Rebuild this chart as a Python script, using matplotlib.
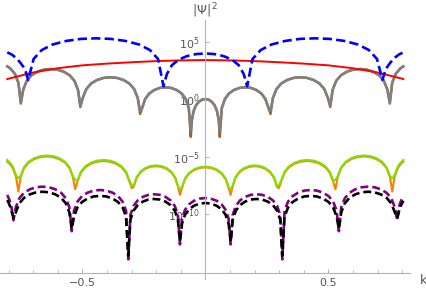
import numpy as np
import matplotlib
matplotlib.use("Agg")
import matplotlib.pyplot as plt
from matplotlib.ticker import FixedLocator, NullLocator

# values: k positions and log10(|Psi|^2), one list per arch

# red
red_k = [-0.805, -0.7, -0.6, -0.5, -0.4, -0.3, -0.2, -0.1, 0.0,
         0.1, 0.2, 0.3, 0.4, 0.5, 0.6, 0.7, 0.805]
red_L = [1.78, 2.35, 2.72, 2.97, 3.12, 3.24, 3.34, 3.4, 3.43,
         3.4, 3.34, 3.24, 3.12, 2.97, 2.72, 2.35, 1.78]

# blue dashed
blue_k = ([-0.805, -0.786, -0.767, -0.752, -0.740, -0.73, -0.72]
          + [-0.698, -0.665, -0.621, -0.566, -0.5055, -0.445, -0.3845, -0.324, -0.269, -0.225, -0.192, -0.17]
          + [-0.1564, -0.136, -0.1088, -0.0748, -0.0374, 0.0, 0.0374, 0.0748, 0.1088, 0.136, 0.1564, 0.17]
          + [0.192, 0.225, 0.269, 0.324, 0.3845, 0.445, 0.5055, 0.566, 0.621, 0.665, 0.698, 0.72]
          + [0.73, 0.740, 0.752, 0.767, 0.786, 0.805])
blue_L = ([4.1, 3.9, 3.58, 3.2, 2.85, 2.4, 1.7]
          + [3.52, 4.30, 4.78, 5.09, 5.27, 5.32, 5.27, 5.09, 4.78, 4.30, 3.52, 1.15]
          + [2.20, 2.98, 3.46, 3.77, 3.95, 4.0, 3.95, 3.77, 3.46, 2.98, 2.20, 1.15]
          + [3.52, 4.30, 4.78, 5.09, 5.27, 5.32, 5.27, 5.09, 4.78, 4.30, 3.52, 1.7]
          + [2.4, 2.85, 3.2, 3.58, 3.9, 4.1])

# gray (and brown underneath)
gray_k = ([-0.805, -0.7932, -0.774, -0.7597, -0.75]
          + [-0.7403, -0.7258, -0.7064, -0.6822, -0.6556, -0.629, -0.6024, -0.5758, -0.5516, -0.5322, -0.5177, -0.508]
          + [-0.4983, -0.4837, -0.4643, -0.44, -0.4132, -0.3865, -0.3598, -0.333, -0.3087, -0.2893, -0.2747, -0.265]
          + [-0.2568, -0.2444, -0.2279, -0.2073, -0.1847, -0.162, -0.1393, -0.1167, -0.0961, -0.0796, -0.0672, -0.059]
          + [-0.0543, -0.0472, -0.0378, -0.026, -0.013, 0.0, 0.013, 0.026, 0.0378, 0.0472, 0.0543, 0.059]
          + [0.0672, 0.0796, 0.0961, 0.1167, 0.1393, 0.162, 0.1847, 0.2073, 0.2279, 0.2444, 0.2568, 0.265]
          + [0.2747, 0.2893, 0.3087, 0.333, 0.3598, 0.3865, 0.4132, 0.44, 0.4643, 0.4837, 0.4983, 0.508]
          + [0.5177, 0.5322, 0.5516, 0.5758, 0.6024, 0.629, 0.6556, 0.6822, 0.7064, 0.7258, 0.7403, 0.75]
          + [0.7597, 0.774, 0.7932, 0.805])
g_edge = [2.88, 2.71, 2.23, 1.45]
g_a1 = [0.85, 1.63, 2.11, 2.42, 2.60, 2.65, 2.60, 2.42, 2.11, 1.63, 0.85]
g_a2 = [0.13, 0.91, 1.39, 1.70, 1.88, 1.93, 1.88, 1.70, 1.39, 0.91, 0.13]
g_a3 = [-0.74, 0.04, 0.52, 0.83, 1.01, 1.06, 1.01, 0.83, 0.52, 0.04, -0.74]
g_a4 = [-1.76, -0.98, -0.50, -0.19, -0.01, 0.04, -0.01, -0.19, -0.50, -0.98, -1.76]
gray_cusps = [-0.3, -0.5, -1.0, -2.65]
brown_cusps = [-0.35, -0.65, -1.25, -3.25]

# green (and orange underneath), same k positions
green_k = ([-0.805, -0.792, -0.783, -0.7692, -0.76]
           + [-0.7508, -0.7369, -0.7184, -0.6953, -0.6699, -0.6445, -0.6191, -0.5937, -0.5706, -0.5521, -0.5382, -0.529]
           + [-0.5198, -0.506, -0.4876, -0.4646, -0.4393, -0.414, -0.3887, -0.3634, -0.3404, -0.322, -0.3082, -0.299]
           + [-0.2912, -0.2794, -0.2637, -0.2441, -0.2226, -0.201, -0.1794, -0.1579, -0.1383, -0.1226, -0.1108, -0.103]
           + [-0.0948, -0.0824, -0.0659, -0.0453, -0.0227, 0.0, 0.0227, 0.0453, 0.0659, 0.0824, 0.0948, 0.103]
           + [0.1108, 0.1226, 0.1383, 0.1579, 0.1794, 0.201, 0.2226, 0.2441, 0.2637, 0.2794, 0.2912, 0.299]
           + [0.3082, 0.322, 0.3404, 0.3634, 0.3887, 0.414, 0.4393, 0.4646, 0.4876, 0.506, 0.5198, 0.529]
           + [0.5382, 0.5521, 0.5706, 0.5937, 0.6191, 0.6445, 0.6699, 0.6953, 0.7184, 0.7369, 0.7508, 0.76]
           + [0.7692, 0.783, 0.792, 0.805])
gr_edge = [-5.26, -5.55, -5.81, -6.59]
gr_a1 = [-6.67, -5.89, -5.41, -5.10, -4.92, -4.87, -4.92, -5.10, -5.41, -5.89, -6.67]
gr_a2 = [-7.06, -6.28, -5.80, -5.49, -5.31, -5.26, -5.31, -5.49, -5.80, -6.28, -7.06]
gr_a3 = [-7.53, -6.75, -6.27, -5.96, -5.78, -5.73, -5.78, -5.96, -6.27, -6.75, -7.53]
gr_a4 = [-7.64, -6.86, -6.38, -6.07, -5.89, -5.84, -5.89, -6.07, -6.38, -6.86, -7.64]
green_cusps = [-6.85, -7.0, -7.45, -7.8]
or_edge = [-5.4, -5.68, -5.95, -6.75]
or_a1 = [-6.75, -5.97, -5.49, -5.18, -5.00, -4.95, -5.00, -5.18, -5.49, -5.97, -6.75]
or_a2 = [-7.15, -6.37, -5.89, -5.58, -5.40, -5.35, -5.40, -5.58, -5.89, -6.37, -7.15]
or_a3 = [-7.6, -6.82, -6.34, -6.03, -5.85, -5.8, -5.85, -6.03, -6.34, -6.82, -7.6]
or_a4 = [-7.7, -6.92, -6.44, -6.13, -5.95, -5.9, -5.95, -6.13, -6.44, -6.92, -7.7]
orange_cusps_left = [-8.0, -7.8, -7.7, -8.3]
orange_cusps_right = [-8.3, -7.7, -7.8, -8.0]

# purple dashed and black dashed, same k positions
pb_k = ([-0.805, -0.797, -0.7896, -0.78]
        + [-0.7705, -0.7563, -0.7373, -0.7136, -0.6876, -0.6615, -0.6354, -0.6094, -0.5857, -0.5667, -0.5525, -0.543]
        + [-0.5338, -0.52, -0.5016, -0.4786, -0.4533, -0.428, -0.4027, -0.3774, -0.3544, -0.336, -0.3222, -0.313]
        + [-0.3046, -0.292, -0.2752, -0.2542, -0.2311, -0.208, -0.1849, -0.1618, -0.1408, -0.124, -0.1114, -0.103]
        + [-0.0948, -0.0824, -0.0659, -0.0453, -0.0227, 0.0, 0.0227, 0.0453, 0.0659, 0.0824, 0.0948, 0.103]
        + [0.1114, 0.124, 0.1408, 0.1618, 0.1849, 0.208, 0.2311, 0.2542, 0.2752, 0.292, 0.3046, 0.313]
        + [0.3222, 0.336, 0.3544, 0.3774, 0.4027, 0.428, 0.4533, 0.4786, 0.5016, 0.52, 0.5338, 0.543]
        + [0.5525, 0.5667, 0.5857, 0.6094, 0.6354, 0.6615, 0.6876, 0.7136, 0.7373, 0.7563, 0.7705, 0.78]
        + [0.7896, 0.797, 0.805])
pu_a1 = [-9.38, -8.60, -8.12, -7.81, -7.63, -7.58, -7.63, -7.81, -8.12, -8.60, -9.38]
pu_a2 = [-9.67, -8.89, -8.41, -8.10, -7.92, -7.87, -7.92, -8.10, -8.41, -8.89, -9.67]
pu_a3 = [-10.04, -9.26, -8.78, -8.47, -8.29, -8.24, -8.29, -8.47, -8.78, -9.26, -10.04]
pu_a4 = [-10.37, -9.59, -9.11, -8.80, -8.62, -8.57, -8.62, -8.80, -9.11, -9.59, -10.37]
purple_cusps = [-10.5, -11.45, -13.9, -12.6]
bk_a1 = [-9.82, -9.04, -8.56, -8.25, -8.07, -8.02, -8.07, -8.25, -8.56, -9.04, -9.82]
bk_a2 = [-10.18, -9.40, -8.92, -8.61, -8.43, -8.38, -8.43, -8.61, -8.92, -9.40, -10.18]
bk_a3 = [-10.45, -9.67, -9.19, -8.88, -8.70, -8.65, -8.70, -8.88, -9.19, -9.67, -10.45]
bk_a4 = [-10.8, -10.02, -9.54, -9.23, -9.05, -9.0, -9.05, -9.23, -9.54, -10.02, -10.8]
black_cusps = [-10.3, -11.25, -13.6, -12.37]

x_major = [-0.5, 0.5]
x_major_labels = ["\u22120.5", "0.5"]
x_minor = [-0.8, -0.7, -0.6, -0.4, -0.3, -0.2, -0.1, 0.1, 0.2, 0.3, 0.4, 0.6, 0.7, 0.8]
y_major = [1e5, 1e0, 1e-5, 1e-10]
y_major_labels = ["$10^{5}$", "$10^{0}$", "$10^{-5}$", "$10^{-10}$"]


def chain(edge_l, arches, cusps_l, cusps_r, edge_r):
    # arches: outer -> centre; cusps: outer -> inner
    a1, a2, a3, a4 = arches
    c1, c2, c3, c4 = cusps_l
    d4, d3, d2, d1 = cusps_r
    return (edge_l + [c1] + a1 + [c2] + a2 + [c3] + a3 + [c4] + a4 + [d4]
            + a3 + [d3] + a2 + [d2] + a1 + [d1] + edge_r)


gray_L = chain(g_edge, [g_a1, g_a2, g_a3, g_a4], gray_cusps, gray_cusps[::-1], g_edge[::-1])
brown_L = chain(g_edge, [g_a1, g_a2, g_a3, g_a4], brown_cusps, brown_cusps[::-1], g_edge[::-1])
green_L = chain(gr_edge, [gr_a1, gr_a2, gr_a3, gr_a4], green_cusps, green_cusps[::-1], gr_edge[::-1])
orange_L = chain(or_edge, [or_a1, or_a2, or_a3, or_a4], orange_cusps_left, orange_cusps_right, or_edge[::-1])
purple_L = chain([-8.3, -8.7, -9.15], [pu_a1, pu_a2, pu_a3, pu_a4], purple_cusps,
                 [-12.6, -13.9, -11.45, -10.5], [-9.15, -8.75, -8.4])
black_L = chain([-8.74, -9.1, -9.55], [bk_a1, bk_a2, bk_a3, bk_a4], black_cusps,
                [-12.37, -13.6, -11.25, -10.3], [-9.55, -9.15, -8.8])


def p(L):
    return 10.0 ** np.asarray(L)


fig = plt.figure(figsize=(4.27, 2.94), dpi=100)
ax = fig.add_axes([0, 0, 1, 1])
ax.set_yscale("log")
ax.set_xlim(-0.8346, 0.9012)
ax.set_ylim(10 ** -16.913, 10 ** 8.652)

ax.plot(gray_k, p(brown_L), color="#996633", lw=1.8)
ax.plot(gray_k, p(gray_L), color="#808080", lw=1.8)
ax.plot(red_k, p(red_L), color="#ff0000", lw=1.4)
ax.plot(blue_k, p(blue_L), color="#0000ff", lw=1.9, ls=(0, (3.5, 1.6)), dash_capstyle="butt")
ax.plot(green_k, p(orange_L), color="#ff7f00", lw=1.5)
ax.plot(green_k, p(green_L), color="#80e000", lw=1.5)
ax.plot(pb_k, p(purple_L), color="#800080", lw=1.9, ls=(0, (3.0, 1.5)), dash_capstyle="butt")
ax.plot(pb_k, p(black_L), color="#000000", lw=1.9, ls=(0, (3.0, 1.5)), dash_capstyle="butt")

axis_col = "#b3b3b3"
text_col = "#555555"
ax.spines["top"].set_visible(False)
ax.spines["right"].set_visible(False)
ax.spines["left"].set_position(("data", 0))
ax.spines["bottom"].set_position(("data", 10 ** -15.05))
ax.spines["left"].set_bounds(10 ** -15.65, 10 ** 6.9)
ax.spines["bottom"].set_bounds(-0.835, 0.832)
for s in ["left", "bottom"]:
    ax.spines[s].set_color(axis_col)
    ax.spines[s].set_linewidth(0.8)

ax.set_xticks(x_major)
ax.set_xticklabels(x_major_labels)
ax.xaxis.set_minor_locator(FixedLocator(x_minor))
ax.set_yticks(y_major)
ax.set_yticklabels(y_major_labels)
ax.yaxis.set_minor_locator(NullLocator())
ax.tick_params(axis="both", which="major", direction="in", length=3.2, width=0.7,
               color=axis_col, labelcolor=text_col, labelsize=8)
ax.tick_params(axis="x", which="minor", direction="in", length=2.2, width=0.6, color=axis_col)
ax.tick_params(axis="x", which="major", pad=4)
ax.tick_params(axis="y", which="major", pad=4)

ax.text(0.0, 10 ** ((99.5 - 11) / 11.5), r"$|\Psi|^{\,2}$", ha="center", va="center",
        fontsize=9, color=text_col)
ax.text(0.885, 10 ** -15.7, "k", ha="center", va="center", fontsize=9, color=text_col)

fig.savefig("out.png", dpi=100)
